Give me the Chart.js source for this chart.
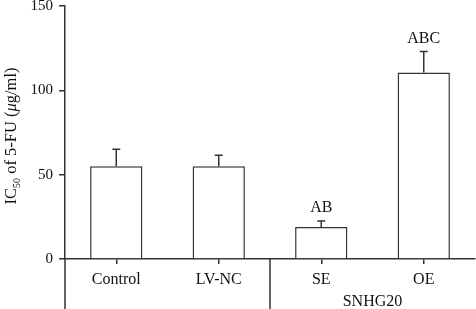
<!DOCTYPE html>
<html>
<head>
<meta charset="utf-8">
<script src="https://cdn.jsdelivr.net/npm/chart.js@4.4.0/dist/chart.umd.min.js"></script>
<style>
  html, body { margin: 0; padding: 0; background: #fff; }
  #wrap { width: 476px; height: 309px; position: relative; }
</style>
</head>
<body>
<div id="wrap"><canvas id="myChart" width="476" height="309"></canvas></div>
<script>
// values
const categories = ['Control', 'LV-NC', 'SE', 'OE'];
const means = [55, 55, 19, 110.5];
const errors = [10, 6.5, 3.6, 12.5];
const letters = ['', '', 'AB', 'ABC'];
const groupLabel = 'SNHG20';
const groupStart = 2; // SE .. OE
const yTicks = [0, 50, 100, 150];

const INK = '#333';
const FONT = '"Liberation Serif", "DejaVu Serif", serif';

const extras = {
    id: 'extras',
    afterDatasetsDraw(chart) {
        const ctx = chart.ctx;
        const x = chart.scales.x, y = chart.scales.y;
        const meta = chart.getDatasetMeta(0);
        ctx.save();
        ctx.strokeStyle = INK;
        ctx.lineWidth = 1.5;
        ctx.fillStyle = '#111';
        ctx.font = '16px ' + FONT;
        ctx.textAlign = 'center';
        ctx.textBaseline = 'alphabetic';
        meta.data.forEach((bar, i) => {
            const top = y.getPixelForValue(means[i]);
            const eTop = y.getPixelForValue(means[i] + errors[i]);
            ctx.beginPath();
            ctx.moveTo(bar.x, top);
            ctx.lineTo(bar.x, eTop);
            ctx.moveTo(bar.x - 4, eTop);
            ctx.lineTo(bar.x + 4, eTop);
            ctx.stroke();
            if (letters[i]) {
                ctx.fillText(letters[i], bar.x, eTop - 9);
            }
        });

        // y axis runs on below the x axis
        const ax = x.left;
        ctx.beginPath();
        ctx.moveTo(ax, y.bottom);
        ctx.lineTo(ax, chart.height);
        // group separator
        const sep = (x.getPixelForValue(groupStart - 1) + x.getPixelForValue(groupStart)) / 2;
        ctx.moveTo(sep, y.bottom);
        ctx.lineTo(sep, chart.height);
        ctx.stroke();

        // group label
        const gx = (x.getPixelForValue(groupStart) + x.getPixelForValue(categories.length - 1)) / 2;
        ctx.fillText(groupLabel, gx, 306);

        // y title with subscript and italic mu
        ctx.translate(16, 136);
        ctx.rotate(-Math.PI / 2);
        const parts = [
            ['IC', '16.5px ' + FONT, 0],
            ['50', '10px ' + FONT, 4],
            [' of 5-FU (', '16.5px ' + FONT, 0],
            ['\u03bc', 'italic 16.5px ' + FONT, 0],
            ['g/ml)', '16.5px ' + FONT, 0]
        ];
        let total = 0;
        parts.forEach(p => { ctx.font = p[1]; total += ctx.measureText(p[0]).width; });
        let cx = -total / 2;
        ctx.textAlign = 'left';
        parts.forEach(p => {
            ctx.font = p[1];
            ctx.fillText(p[0], cx, p[2]);
            cx += ctx.measureText(p[0]).width;
        });
        ctx.restore();
    }
};

new Chart(document.getElementById('myChart'), {
    type: 'bar',
    data: {
        labels: categories,
        datasets: [{
            data: means,
            backgroundColor: '#fff',
            borderColor: INK,
            borderWidth: 1.5,
            barPercentage: 0.51,
            categoryPercentage: 1
        }]
    },
    options: {
        responsive: false,
        animation: false,
        devicePixelRatio: 1,
        layout: { padding: { top: 6, right: 1, left: 0, bottom: 0 } },
        plugins: { legend: { display: false }, tooltip: { enabled: false } },
        scales: {
            x: {
                grid: { display: true, offset: false, drawOnChartArea: false, drawTicks: true, tickLength: 5, color: INK, lineWidth: 1.5 },
                border: { display: true, color: INK, width: 1.5 },
                ticks: { color: '#111', font: { family: FONT, size: 16 }, padding: 6, maxRotation: 0 },
                afterFit: s => { s.height = 50; s.paddingLeft = 0; s.paddingRight = 0; }
            },
            y: {
                min: 0,
                max: 150,
                afterBuildTicks: s => { s.ticks = yTicks.map(v => ({ value: v })); },
                grid: { display: true, drawOnChartArea: false, drawTicks: true, tickLength: 6, color: INK, lineWidth: 1.5 },
                border: { display: true, color: INK, width: 1.5 },
                ticks: { color: '#111', font: { family: FONT, size: 15 }, padding: 6 },
                afterFit: s => { s.width = 65; s.paddingTop = 0; s.paddingBottom = 0; }
            }
        }
    },
    plugins: [extras]
});
</script>
</body>
</html>
